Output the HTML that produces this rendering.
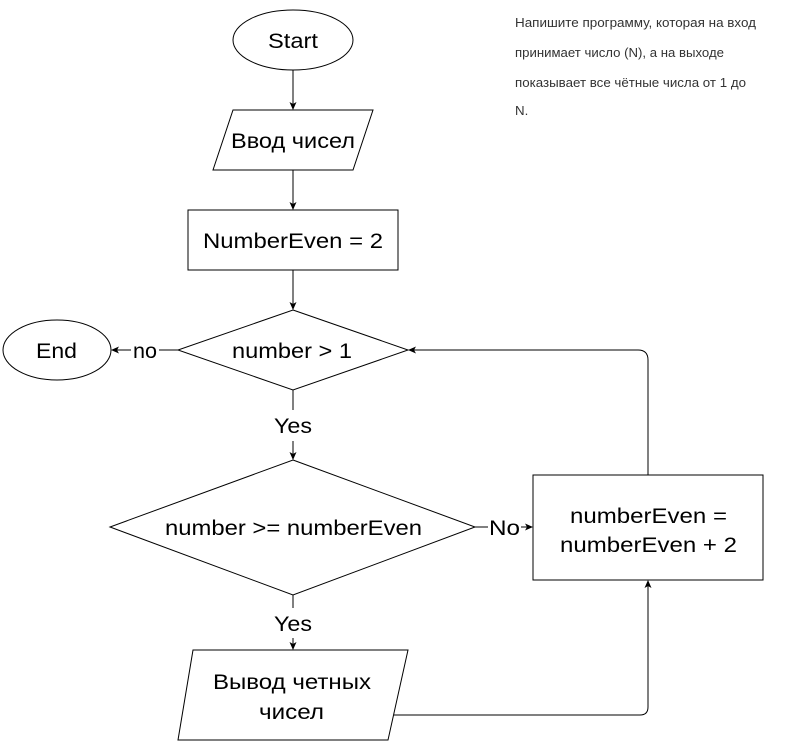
<!DOCTYPE html>
<html><head><meta charset="utf-8"><style>
html,body{margin:0;padding:0;background:#fff;}
svg{display:block;}
text{font-family:"Liberation Sans","DejaVu Sans",sans-serif;font-size:21px;fill:#000;}
.s{font-size:13.3px;fill:#333;}
</style></head><body>
<svg width="794" height="741" viewBox="0 0 794 741" xmlns="http://www.w3.org/2000/svg">
<defs><marker id="a" markerWidth="8" markerHeight="8" refX="7" refY="4" orient="auto" markerUnits="userSpaceOnUse"><path d="M0,0.5 L8,4 L0,7.5 L2,4 Z" fill="#000"/></marker></defs>
<g fill="none" stroke="#000" stroke-width="1">
<ellipse cx="293" cy="40" rx="60" ry="30" fill="#fff"/>
<line x1="293" y1="70" x2="293" y2="109" marker-end="url(#a)"/>
<polygon points="233,110 373,110 353,170 213,170" fill="#fff"/>
<line x1="293" y1="170" x2="293" y2="209" marker-end="url(#a)"/>
<rect x="188" y="210" width="210" height="60" fill="#fff"/>
<line x1="293" y1="270" x2="293" y2="309" marker-end="url(#a)"/>
<polygon points="293,310 408,350 293,390 178,350" fill="#fff"/>
<ellipse cx="57" cy="350" rx="54" ry="30" fill="#fff"/>
<line x1="178" y1="350" x2="159" y2="350"/>
<line x1="131" y1="350" x2="112" y2="350" marker-end="url(#a)"/>
<line x1="293" y1="390" x2="293" y2="410"/>
<line x1="293" y1="441" x2="293" y2="459" marker-end="url(#a)"/>
<polygon points="293,460 475,527 293,595 110,527" fill="#fff"/>
<line x1="475" y1="527" x2="488" y2="527"/>
<line x1="521" y1="527" x2="532" y2="527" marker-end="url(#a)"/>
<rect x="533" y="475" width="230" height="105" fill="#fff"/>
<path d="M648,475 L648,360 Q648,350 638,350 L409,350" marker-end="url(#a)"/>
<line x1="293" y1="595" x2="293" y2="608"/>
<line x1="293" y1="638" x2="293" y2="649" marker-end="url(#a)"/>
<polygon points="193,650 408,650 388,740 178,740" fill="#fff"/>
<path d="M394,715 L640,715 Q648,715 648,707 L648,581" marker-end="url(#a)"/>
</g>
<g lengthAdjust="spacingAndGlyphs">
<text x="268" y="48" textLength="50" lengthAdjust="spacingAndGlyphs">Start</text>
<text x="231" y="148" textLength="124" lengthAdjust="spacingAndGlyphs">Ввод чисел</text>
<text x="203" y="248" textLength="180" lengthAdjust="spacingAndGlyphs">NumberEven = 2</text>
<text x="232" y="358" textLength="120" lengthAdjust="spacingAndGlyphs">number &gt; 1</text>
<text x="36" y="358" textLength="41" lengthAdjust="spacingAndGlyphs">End</text>
<text x="133" y="358" textLength="24" lengthAdjust="spacingAndGlyphs">no</text>
<text x="274" y="433" textLength="38" lengthAdjust="spacingAndGlyphs">Yes</text>
<text x="165" y="535" textLength="257" lengthAdjust="spacingAndGlyphs">number &gt;= numberEven</text>
<text x="489" y="535" textLength="31" lengthAdjust="spacingAndGlyphs">No</text>
<text x="570" y="523" textLength="157" lengthAdjust="spacingAndGlyphs">numberEven =</text>
<text x="560" y="552" textLength="177" lengthAdjust="spacingAndGlyphs">numberEven + 2</text>
<text x="274" y="631" textLength="38" lengthAdjust="spacingAndGlyphs">Yes</text>
<text x="213" y="689" textLength="158" lengthAdjust="spacingAndGlyphs">Вывод четных</text>
<text x="259" y="719" textLength="65" lengthAdjust="spacingAndGlyphs">чисел</text>
<text class="s" x="515" y="27" textLength="241" lengthAdjust="spacingAndGlyphs">Напишите программу, которая на вход</text>
<text class="s" x="515" y="57" textLength="209" lengthAdjust="spacingAndGlyphs">принимает число (N), а на выходе</text>
<text class="s" x="515" y="87" textLength="231" lengthAdjust="spacingAndGlyphs">показывает все чётные числа от 1 до</text>
<text class="s" x="515" y="115">N.</text>
</g>
</svg>
</body></html>
